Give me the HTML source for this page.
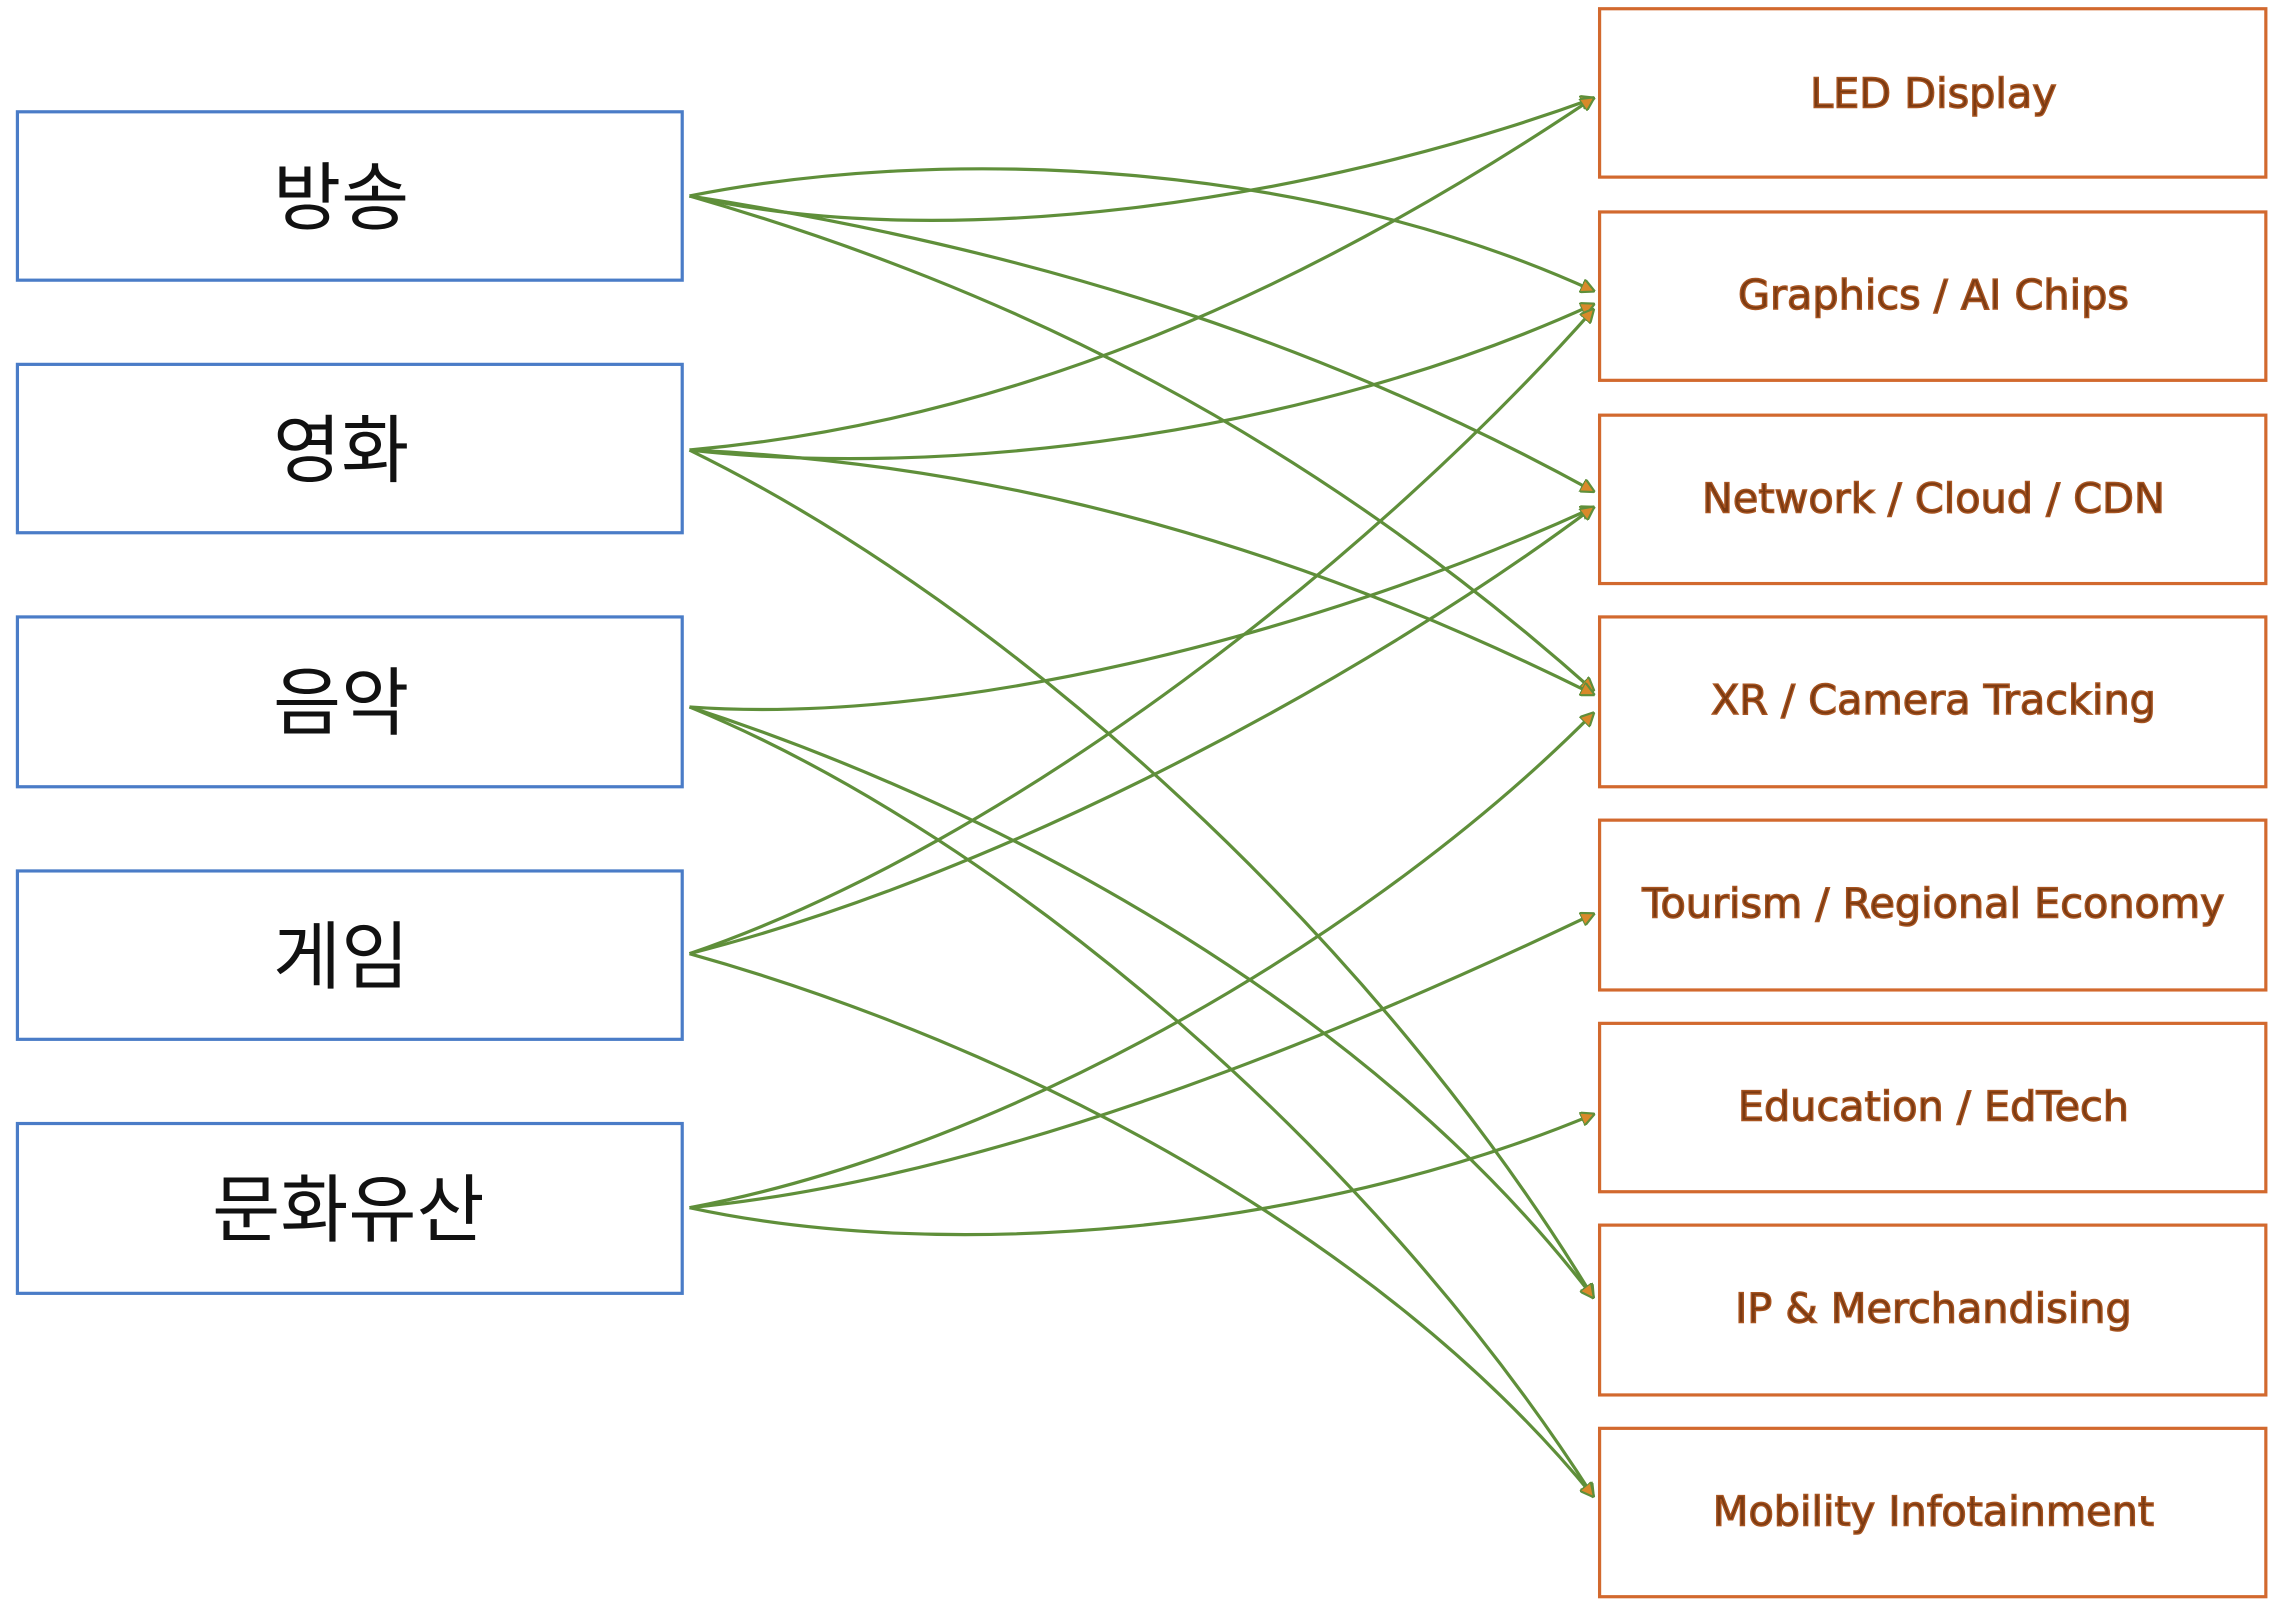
<!DOCTYPE html>
<html><head><meta charset="utf-8"><style>
html,body{margin:0;padding:0;background:#fff;}
svg{display:block;}
</style></head><body>
<svg width="2276" height="1604" viewBox="0 0 1568 1105" xmlns="http://www.w3.org/2000/svg">
<defs>
<marker id="a" markerWidth="10" markerHeight="10" refX="8" refY="5" orient="auto" markerUnits="userSpaceOnUse">
<path d="M0,0 L10,5 L0,10 Z" fill="#d9892a" stroke="#5f8f3a" stroke-width="1.5"/>
</marker>
</defs>
<g fill="#fff" stroke="#4a7cc7" stroke-width="2.2">
<rect x="12" y="77" width="458" height="116"/>
<rect x="12" y="251" width="458" height="116"/>
<rect x="12" y="425" width="458" height="117"/>
<rect x="12" y="600" width="458" height="116"/>
<rect x="12" y="774" width="458" height="117"/>
</g>
<g font-family="'Liberation Sans','Noto Sans CJK KR',sans-serif" font-size="51" fill="#111" text-anchor="middle">
<text x="235" y="154">방송</text>
<text x="235" y="328">영화</text>
<text x="235" y="502">음악</text>
<text x="235" y="677">게임</text>
<text x="240" y="851">문화유산</text>
</g>
<g fill="#fff" stroke="#d2692e" stroke-width="2.2">
<rect x="1102" y="6" width="459" height="116"/>
<rect x="1102" y="146" width="459" height="116"/>
<rect x="1102" y="286" width="459" height="116"/>
<rect x="1102" y="425" width="459" height="117"/>
<rect x="1102" y="565" width="459" height="117"/>
<rect x="1102" y="705" width="459" height="116"/>
<rect x="1102" y="844" width="459" height="117"/>
<rect x="1102" y="984" width="459" height="116"/>
</g>
<g font-family="'DejaVu Sans','Liberation Sans',sans-serif" font-size="28.5" fill="#7a3a12" stroke="#a85420" stroke-width="1" text-anchor="middle">
<text x="1332" y="74">LED Display</text>
<text x="1332" y="213">Graphics / AI Chips</text>
<text x="1332" y="353">Network / Cloud / CDN</text>
<text x="1332" y="492">XR / Camera Tracking</text>
<text x="1332" y="632">Tourism / Regional Economy</text>
<text x="1332" y="772">Education / EdTech</text>
<text x="1332" y="911">IP &amp; Merchandising</text>
<text x="1332" y="1051">Mobility Infotainment</text>
</g>
<g fill="none" stroke="#5f8f3a" stroke-width="2.2" marker-end="url(#a)">
<path d="M475 135 C650 175,900 140,1097 68"/>
<path d="M475 135 C650 100,900 110,1097 200"/>
<path d="M475 135 C700 170,900 230,1097 338"/>
<path d="M475 135 C700 200,900 300,1097 475"/>
<path d="M475 310 C700 290,900 200,1097 68"/>
<path d="M475 310 C650 330,900 300,1097 210"/>
<path d="M475 310 C700 320,900 380,1097 478"/>
<path d="M475 310 C700 420,950 650,1097 893"/>
<path d="M475 487 C650 500,900 440,1097 350"/>
<path d="M475 487 C700 560,950 700,1097 893"/>
<path d="M475 487 C700 580,950 800,1097 1030"/>
<path d="M475 657 C700 580,950 380,1097 214"/>
<path d="M475 657 C700 600,950 460,1097 350"/>
<path d="M475 657 C700 720,950 850,1097 1030"/>
<path d="M475 832 C700 790,950 640,1097 492"/>
<path d="M475 832 C700 810,950 700,1097 630"/>
<path d="M475 832 C650 870,900 850,1097 768"/>
</g>
</svg>
</body></html>
